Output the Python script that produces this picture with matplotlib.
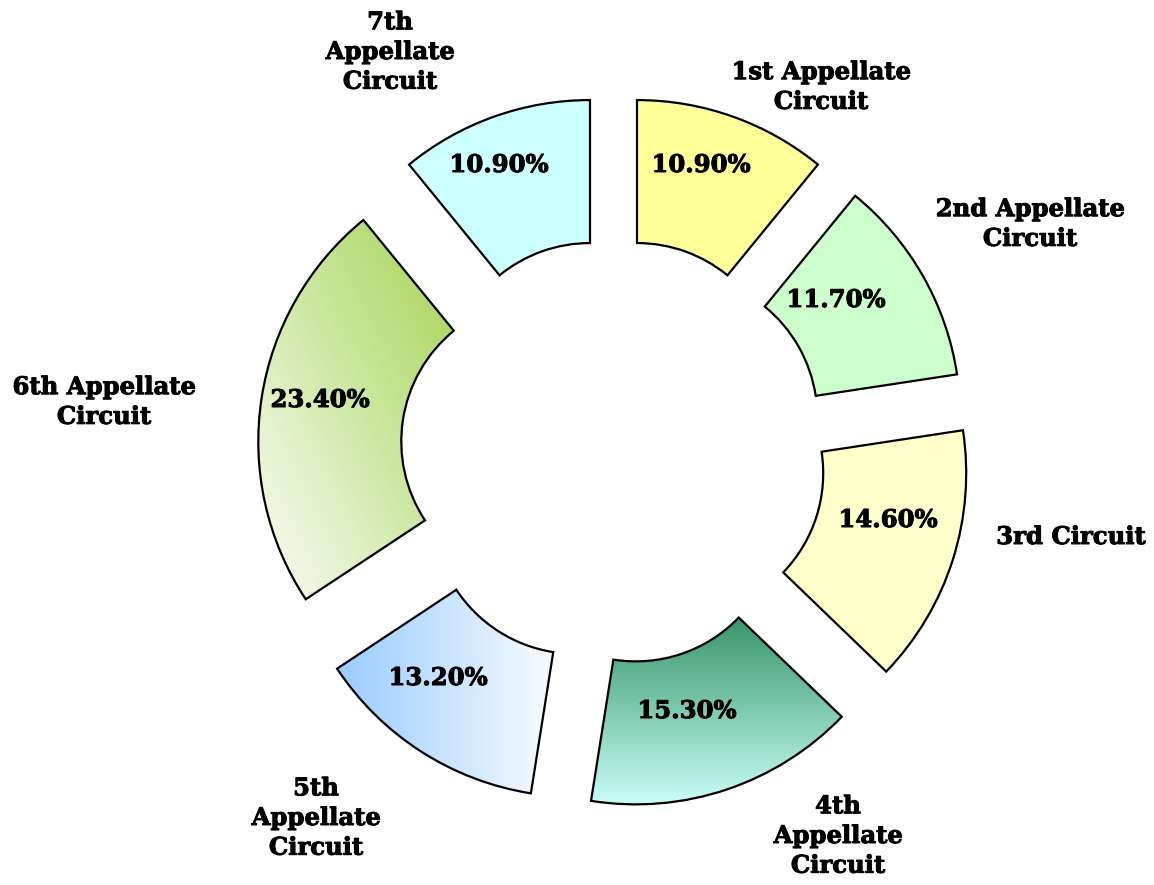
import numpy as np
import matplotlib.pyplot as plt
import matplotlib.patheffects as pe
from matplotlib.colors import LinearSegmentedColormap

# data
circuits = ['1st Appellate\nCircuit', '2nd Appellate\nCircuit', '3rd Circuit',
            '4th\nAppellate\nCircuit', '5th\nAppellate\nCircuit',
            '6th Appellate\nCircuit', '7th\nAppellate\nCircuit']
shares = [10.9, 11.7, 14.6, 15.3, 13.2, 23.4, 10.9]

# plain fills / gradient fills (None = flat colour)
colors = ['#ffff99', '#ccffcc', '#ffffcc', '#ffffff', '#ffffff', '#ffffff', '#ccffff']
gradients = [None, None, None,
             ('vertical', '#38966a', '#c8fdf7'),
             ('horizontal', '#99ccff', '#f8fbff'),
             ('diagonal', '#a3d452', '#fbfcf8'),
             None]

# label places, in pixels (y up)
name_pos = [(821, 798), (1030, 661), (1071, 348), (838, 49), (316, 67), (104, 483), (390, 833)]
pct_pos = [(701, 720), (836, 585), (888, 365), (687, 174), (438, 207), (320, 485), (499, 720)]

W, H = 1154, 885
fig = plt.figure(figsize=(W / 100, H / 100), dpi=100)
ax = fig.add_axes([0, 0, 1, 1])

R = 286
wedges, _ = ax.pie(shares, radius=R, center=(613.5, 433), explode=[70] * len(shares),
                   startangle=90, counterclock=False, colors=colors,
                   wedgeprops=dict(width=143, edgecolor='black', linewidth=1.6))

for w, g in zip(wedges, gradients):
    if g is None:
        continue
    kind, c0, c1 = g
    w.set_facecolor('none')
    ext = w.get_path().get_extents()
    n = 200
    xn, yn = np.meshgrid(np.linspace(0, 1, n), np.linspace(0, 1, n))
    if kind == 'vertical':
        t = 1 - yn
    elif kind == 'horizontal':
        t = xn
    else:
        t = 1 - (xn + yn) / 2
    cmap = LinearSegmentedColormap.from_list('g', [c0, c1])
    im = ax.imshow(t, cmap=cmap, origin='lower', aspect='auto', vmin=0, vmax=1,
                   extent=(ext.x0, ext.x1, ext.y0, ext.y1), zorder=0.9)
    im.set_clip_path(w)

# heavier look for the bold serif
thick = [pe.withStroke(linewidth=0.7, foreground='black')]
font = dict(family='DejaVu Serif', weight='bold', size=17.5, path_effects=thick)
for (x, y), s in zip(pct_pos, shares):
    ax.text(x, y, f'{s:.2f}%', ha='center', va='center', **font)
for (x, y), name in zip(name_pos, circuits):
    ax.text(x, y, name, ha='center', va='center', multialignment='center',
            linespacing=1.3, **font)

ax.set_xlim(0, W)
ax.set_ylim(0, H)
ax.set_aspect('auto')
ax.axis('off')

fig.savefig('out.png', dpi=100, facecolor='white')
